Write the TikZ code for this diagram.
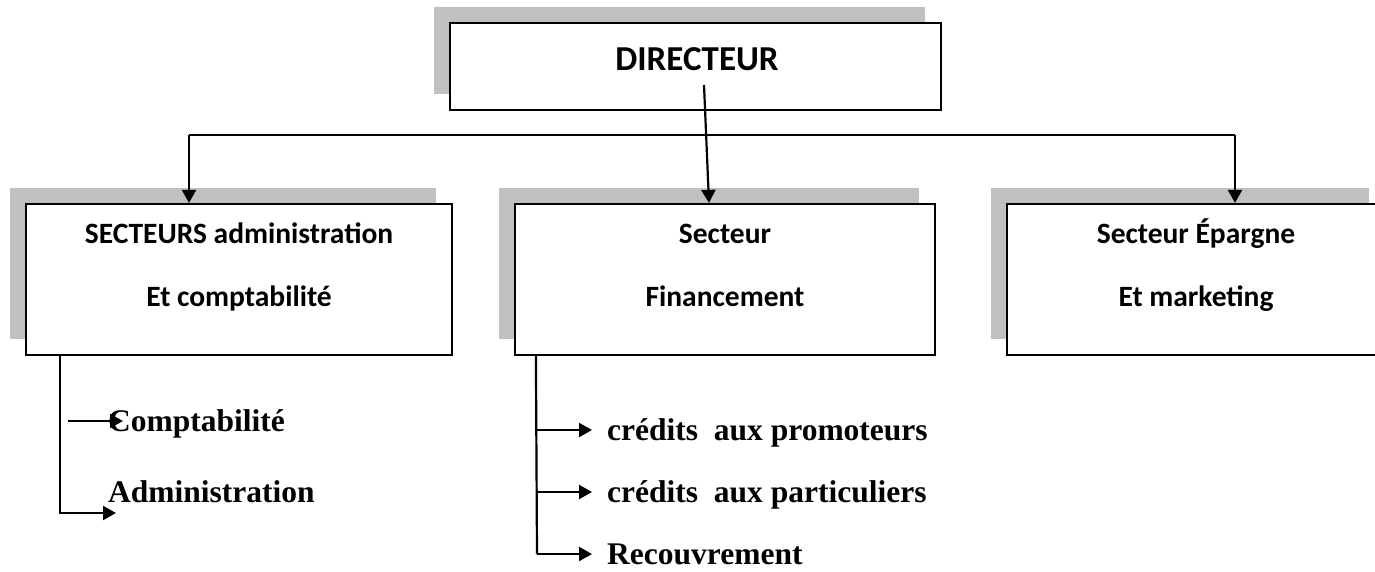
\documentclass[tikz,border=0pt]{standalone}
\usepackage{fontspec}
\setmainfont{Liberation Serif}
\newfontfamily\boxfont{Carlito}
\usetikzlibrary{arrows.meta,shadows}
\definecolor{shadegray}{HTML}{C0C0C0}

\begin{document}
\begin{tikzpicture}[x=1pt,y=-1pt,
  box/.style={draw=black, line width=2.2pt, fill=white, inner sep=0pt,
    general shadow={fill=shadegray, shadow xshift=-16pt, shadow yshift=16pt}},
  conn/.style={draw=black, line width=2.2pt},
  arr/.style={conn, -{Triangle[length=13pt,width=14pt]}},
  headtxt/.style={font=\boxfont\bfseries\fontsize{35}{42}\selectfont, anchor=base, inner sep=0pt},
  sectxt/.style={font=\boxfont\bfseries\fontsize{29.5}{35}\selectfont, anchor=base, inner sep=0pt},
  itemtxt/.style={font=\bfseries\fontsize{31.5}{37}\selectfont, anchor=base west, inner sep=0pt}]

\clip (0,0) rectangle (1375,571);

% director box
\node[box, minimum width=491pt, minimum height=87pt] (dir) at (695.5,66.5) {};
\node[headtxt] (dirt) at (697,70) {DIRECTEUR};

% sector boxes
\node[box, minimum width=426pt, minimum height=151pt] (s1) at (239,279.5) {};
\node[box, minimum width=420pt, minimum height=151pt] (s2) at (725,279.5) {};
\node[box, minimum width=378pt, minimum height=151pt] (s3) at (1196,279.5) {};

\node[sectxt] (s1a) at (239,243) {SECTEURS administration};
\node[sectxt] (s1b) at (239,306) {Et comptabilité};
\node[sectxt] (s2a) at (725,243) {Secteur};
\node[sectxt] (s2b) at (725,306) {Financement};
\node[sectxt] (s3a) at (1196,243) {Secteur Épargne};
\node[sectxt] (s3b) at (1196,306) {Et marketing};

% top-level connectors
\coordinate (j1) at (189,135);
\coordinate (j3) at (1235,135);
\coordinate (d0) at (704,85);
\draw[conn] (j1) -- (j3);
\draw[arr] (j1) -- (j1 |- s1.north);
\draw[arr] (j3) -- (j3 |- s3.north);
\draw[arr] (d0) -- ([xshift=-16pt]s2.north);

% administration branch
\coordinate (l0) at ([xshift=35pt]s1.south west);
\coordinate (l2) at (116,513);
\coordinate (l1a) at (68,421);
\coordinate (l1b) at (123,421);
\draw[arr] (l0) |- (l2);
\draw[arr] (l1a) -- (l1b);
\node[itemtxt] (c1) at (108,431) {Comptabilité};
\node[itemtxt] (c2) at (108,502) {Administration};

% financement branch
\coordinate (m0) at ([xshift=22pt]s2.south west);
\coordinate (m3) at (537,554);
\draw[conn] (m0) -- (m3);
\coordinate (m1) at (537,430);
\coordinate (m2) at (537,492);
\draw[arr] (m1) -- ++(55,0);
\draw[arr] (m2) -- ++(55,0);
\draw[arr] (m3) -- ++(55,0);
\node[itemtxt] (f1) at (607,440) {crédits\ \ aux promoteurs};
\node[itemtxt] (f2) at (607,502) {crédits\ \ aux particuliers};
\node[itemtxt] (f3) at (607,564) {Recouvrement};
\end{tikzpicture}
\end{document}
